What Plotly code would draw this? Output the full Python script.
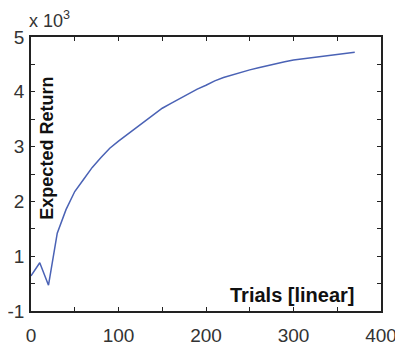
import plotly.graph_objects as go

trials = [0, 10, 20, 30, 40, 50, 60, 70, 80, 90, 100, 110, 120, 130, 140, 150, 160, 170, 180,
          190, 200, 210, 220, 230, 240, 250, 260, 270, 280, 290, 300, 310, 320, 330, 340, 350, 360, 370]
expected_return = [0.64, 0.88, 0.47, 1.42, 1.85, 2.18, 2.40, 2.62, 2.80, 2.97, 3.10, 3.22, 3.34,
                   3.46, 3.59, 3.70, 3.79, 3.88, 3.97, 4.05, 4.12, 4.20, 4.26, 4.31, 4.36, 4.40,
                   4.44, 4.48, 4.52, 4.55, 4.58, 4.60, 4.62, 4.64, 4.66, 4.68, 4.70, 4.72]

x_tickvals = [0, 50, 100, 150, 200, 250, 300, 350, 400]
x_ticktext = ["0", "", "100", "", "200", "", "300", "", "400"]
y_tickvals = [0, 0.5, 1, 1.5, 2, 2.5, 3, 3.5, 4, 4.5, 5]
y_ticktext = ["-1", "", "1", "", "2", "", "3", "", "4", "", "5"]

fig = go.Figure()
fig.add_trace(go.Scatter(x=trials, y=expected_return, mode="lines",
                         line=dict(color="#4a62b5", width=1.5), showlegend=False))

axis_common = dict(showline=True, linecolor="#222", linewidth=1.5, mirror="ticks",
                   ticks="inside", ticklen=4, tickwidth=1, tickcolor="#222",
                   showgrid=False, zeroline=False, automargin=False,
                   tickfont=dict(family="Liberation Sans, Arial", size=19, color="#333"))

fig.update_xaxes(range=[0, 400], tickmode="array", tickvals=x_tickvals, ticktext=x_ticktext,
                 ticklabelstandoff=6, **axis_common)
fig.update_yaxes(range=[0, 5], tickmode="array", tickvals=y_tickvals, ticktext=y_ticktext,
                 ticklabelstandoff=1, **axis_common)

# The page body adds an 8px offset, so the figure is sized and margined to compensate.
fig.update_layout(
    width=395, height=338,
    margin=dict(l=23, r=22, t=29, b=35),
    plot_bgcolor="white", paper_bgcolor="white",
    annotations=[
        dict(text="<b>Expected Return</b>", textangle=-90, xref="paper", yref="paper",
             x=0.012, y=0.325, xanchor="left", yanchor="bottom", showarrow=False,
             font=dict(family="Liberation Sans, Arial", size=18, color="#111")),
        dict(text="<b>Trials [linear]</b>", xref="paper", yref="paper",
             x=0.93, y=0.012, xanchor="right", yanchor="bottom", showarrow=False,
             font=dict(family="Liberation Sans, Arial", size=20, color="#111")),
        dict(text="x 10<sup>3</sup>", xref="paper", yref="paper",
             x=-0.012, y=1.015, xanchor="left", yanchor="bottom", showarrow=False,
             font=dict(family="Liberation Sans, Arial", size=18, color="#333")),
    ],
)

fig.write_html("out.html")
